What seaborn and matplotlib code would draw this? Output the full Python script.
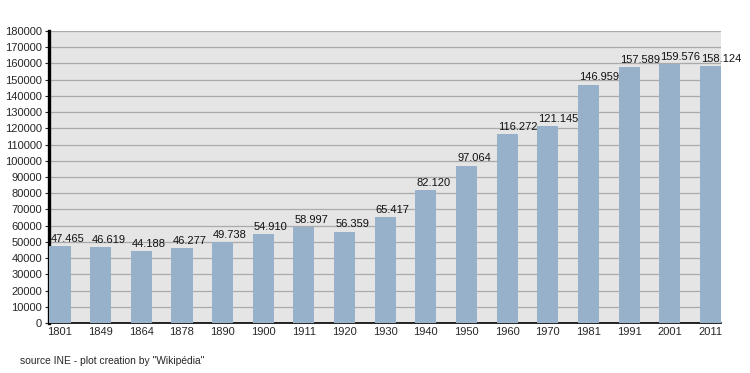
import matplotlib
matplotlib.use("Agg")
import matplotlib.pyplot as plt
import numpy as np
import pandas as pd
import seaborn as sns

years = ["1801", "1849", "1864", "1878", "1890", "1900", "1911", "1920", "1930",
         "1940", "1950", "1960", "1970", "1981", "1991", "2001", "2011"]
population = [47465, 46619, 44188, 46277, 49738, 54910, 58997, 56359, 65417,
              82120, 97064, 116272, 121145, 146959, 157589, 159576, 158124]
y_ticks = list(range(0, 180001, 10000))

sns.set_style("white")
plt.rcParams["font.family"] = ["Liberation Sans", "DejaVu Sans"]

df = pd.DataFrame({"year": years, "pop": population})

fig = plt.figure(figsize=(7.5, 3.73), dpi=100)
ax = fig.add_axes([49 / 750, 50 / 373, 672 / 750, 292 / 373])
ax.set_facecolor("#e5e5e5")

bar_w = 0.52
sns.barplot(data=df, x="year", y="pop", color="#97b1cb", saturation=1,
            width=bar_w, linewidth=0, edgecolor="none", ax=ax, zorder=3)

# value labels start at the left edge of each bar
for i, v in enumerate(population):
    ax.text(i - bar_w / 2 + 0.03, v + 1300, f"{v:,}".replace(",", "."),
            ha="left", va="bottom", fontsize=8, color="#111111", zorder=4)

ax.set_ylim(0, 180000)
ax.set_xlim(-0.27, len(years) - 1 + 0.26)
ax.set_yticks(y_ticks)
ax.set_yticklabels([str(t) for t in y_ticks], fontsize=8)
ax.tick_params(axis="x", labelsize=8, length=0, pad=3)
ax.tick_params(axis="y", length=3, width=0.8, pad=2, direction="out", left=True)
ax.grid(axis="y", color="#aaaaaa", linewidth=0.9, zorder=0)
ax.set_axisbelow(True)
ax.set_xlabel("")
ax.set_ylabel("")

for side in ["top", "right"]:
    ax.spines[side].set_visible(False)
ax.spines["left"].set_linewidth(2.4)
ax.spines["left"].set_color("black")
ax.spines["bottom"].set_linewidth(1.2)
ax.spines["bottom"].set_color("black")

fig.text(20 / 750, 1 - 361 / 373, "source INE - plot creation by \"Wikipédia\"",
         fontsize=7.4, va="center", ha="left")

fig.savefig("out.png", dpi=100)
